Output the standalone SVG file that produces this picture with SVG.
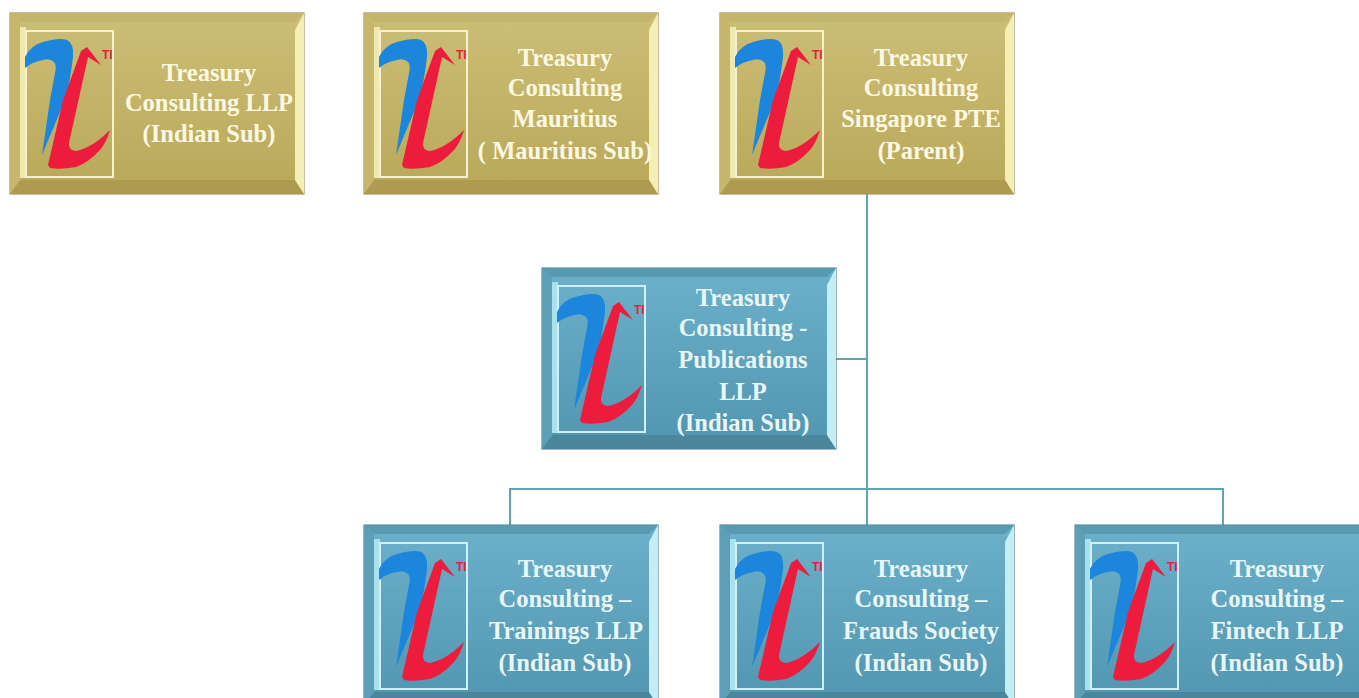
<svg xmlns="http://www.w3.org/2000/svg" width="1359" height="698" viewBox="0 0 1359 698">
<style>
text{font-family:"Liberation Serif","DejaVu Serif",serif;font-weight:700;font-size:24.5px;text-anchor:middle}
.g text{fill:#fbf8e2}
.t text{fill:#e8f7f9}
.conn{stroke:#5da6b4;stroke-width:2;fill:none}
.gbase{fill:url(#gold);stroke:#8b7f49;stroke-width:1}
.tbase{fill:url(#teal);stroke:#3f7284;stroke-width:1}
.gtop{fill:#c4b56c}.gbot{fill:#ad9c4f}.glft{fill:#c6b76d}.grgt{fill:#f4efb4}
.ttop{fill:#5a9ab0}.tbot{fill:#4a879c}.tlft{fill:#5c9fb6}.trgt{fill:#c3eef5}
.g .frame{stroke:#f6f2cf}.t .frame{stroke:#cdf1f6}
.frame{fill:none;stroke-width:2}
.edge{stroke-width:6}
.g .edge{stroke:#efe8b0}.t .edge{stroke:#a9e2ec}
.ti{font-family:"Liberation Sans",sans-serif;font-size:12px;fill:#ee1c3c;font-weight:700;text-anchor:start}
</style>
<defs>
<linearGradient id="gold" x1="0" y1="0" x2="0" y2="1"><stop offset="0" stop-color="#ccbe76"/><stop offset="1" stop-color="#b9a859"/></linearGradient>
<linearGradient id="teal" x1="0" y1="0" x2="0" y2="1"><stop offset="0" stop-color="#6cb0ca"/><stop offset="1" stop-color="#5295ae"/></linearGradient>
<g id="logo">
<path fill="#1b86dc" d="M15 55 L15 44 Q21 32 33 29 Q50 24 57 27 Q64 30 63 44 Q60 70 55 87 L32 142 L40 87 L45 60 Q47 52 44 49 Q40 45 33 47 Q22 49 15 55Z"/>
<path fill="#ee1c3c" d="M38 152 L53 87 L71 38 L77 34 L91 52 L78 44 L59 130 Q58 137 66 138 Q82 135 100 117 Q96 130 90 137 Q78 150 66 154 Q50 157 40 155Z"/>
<text class="ti" x="92" y="46">TI</text>
</g>
<g id="bevelG">
<rect class="gbase" x="0" y="0" width="294" height="181"/>
<polygon class="gtop" points="0,0 294,0 285,9 10,9"/>
<polygon class="gbot" points="0,181 294,181 285,167 10,167"/>
<polygon class="glft" points="0,0 10,9 10,167 0,181"/>
<polygon class="grgt" points="294,0 285,17 285,167 294,181"/>
</g>
<g id="bevelT">
<rect class="tbase" x="0" y="0" width="294" height="181"/>
<polygon class="ttop" points="0,0 294,0 285,9 10,9"/>
<polygon class="tbot" points="0,181 294,181 285,167 10,167"/>
<polygon class="tlft" points="0,0 10,9 10,167 0,181"/>
<polygon class="trgt" points="294,0 285,17 285,167 294,181"/>
</g>
</defs>
<g id="connectors">
<path class="conn" d="M867 194V525M836 359H867M510 525V489H1223V525"/>
</g>
<g id="n1" class="g" transform="translate(10,13)">
<use href="#bevelG"/><path class="frame edge" d="M13 14V165"/><rect class="frame" x="16" y="18" width="87" height="146"/><use href="#logo"/>
<text x="199" y="68">Treasury</text><text x="199" y="98">Consulting LLP</text><text x="199" y="129">(Indian Sub)</text>
</g>
<g id="n2" class="g" transform="translate(364,13)">
<use href="#bevelG"/><path class="frame edge" d="M13 14V165"/><rect class="frame" x="16" y="18" width="87" height="146"/><use href="#logo"/>
<text x="201" y="53">Treasury</text><text x="201" y="83">Consulting</text><text x="201" y="114">Mauritius</text><text x="201" y="146">( Mauritius Sub)</text>
</g>
<g id="n3" class="g" transform="translate(720,13)">
<use href="#bevelG"/><path class="frame edge" d="M13 14V165"/><rect class="frame" x="16" y="18" width="87" height="146"/><use href="#logo"/>
<text x="201" y="53">Treasury</text><text x="201" y="83">Consulting</text><text x="201" y="114">Singapore PTE</text><text x="201" y="146">(Parent)</text>
</g>
<g id="n4" class="t" transform="translate(542,268)">
<use href="#bevelT"/><path class="frame edge" d="M13 14V165"/><rect class="frame" x="16" y="18" width="87" height="146"/><use href="#logo"/>
<text x="201" y="38">Treasury</text><text x="201" y="68">Consulting -</text><text x="201" y="100">Publications</text><text x="201" y="132">LLP</text><text x="201" y="163">(Indian Sub)</text>
</g>
<g id="n5" class="t" transform="translate(364,525)">
<use href="#bevelT"/><path class="frame edge" d="M13 14V165"/><rect class="frame" x="16" y="18" width="87" height="146"/><use href="#logo"/>
<text x="201" y="52">Treasury</text><text x="201" y="82">Consulting –</text><text x="202" y="114">Trainings LLP</text><text x="201" y="146">(Indian Sub)</text>
</g>
<g id="n6" class="t" transform="translate(720,525)">
<use href="#bevelT"/><path class="frame edge" d="M13 14V165"/><rect class="frame" x="16" y="18" width="87" height="146"/><use href="#logo"/>
<text x="201" y="52">Treasury</text><text x="201" y="82">Consulting –</text><text x="201" y="114">Frauds Society</text><text x="201" y="146">(Indian Sub)</text>
</g>
<g id="n7" class="t" transform="translate(1075,525)">
<use href="#bevelT"/><path class="frame edge" d="M13 14V165"/><rect class="frame" x="16" y="18" width="87" height="146"/><use href="#logo"/>
<text x="202" y="52">Treasury</text><text x="202" y="82">Consulting –</text><text x="202" y="114">Fintech LLP</text><text x="202" y="146">(Indian Sub)</text>
</g>
</svg>
